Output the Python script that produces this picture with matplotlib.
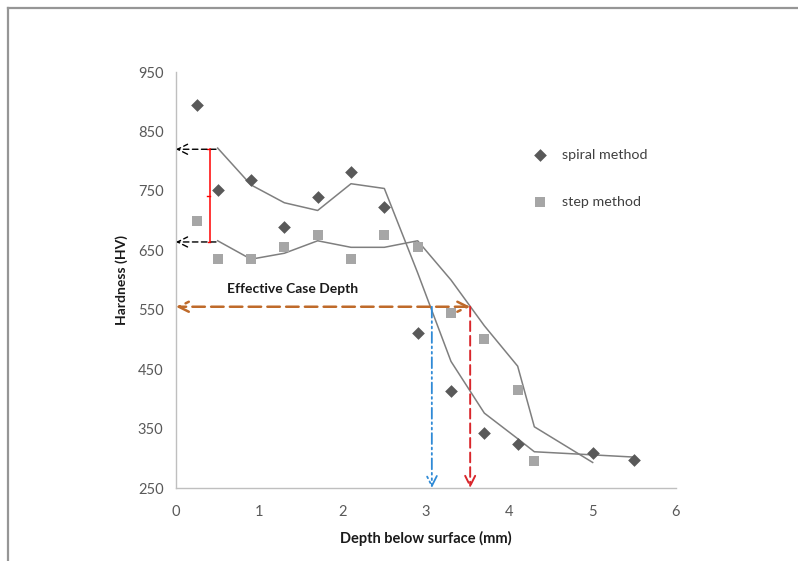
import matplotlib
matplotlib.use("Agg")
import matplotlib.pyplot as plt
from matplotlib.lines import Line2D

plt.rcParams['font.family'] = ['Lato', 'DejaVu Sans']

# --- data ---
spiral_depth = [0.25, 0.5, 0.9, 1.3, 1.7, 2.1, 2.5, 2.9, 3.3, 3.7, 4.1, 5.0, 5.5]
spiral_hv = [895, 752, 768, 690, 740, 782, 722, 510, 413, 343, 324, 309, 297]

step_depth = [0.25, 0.5, 0.9, 1.3, 1.7, 2.1, 2.5, 2.9, 3.3, 3.7, 4.1, 4.3]
step_hv = [700, 635, 635, 655, 675, 635, 675, 655, 545, 500, 415, 295]

spiral_trend_depth = [0.5, 0.9, 1.3, 1.7, 2.1, 2.5, 2.9, 3.3, 3.7, 4.1, 4.3, 5.5]
spiral_trend_hv = [822, 760, 730, 717, 762, 754, 612, 463, 376, 333, 311, 302]

step_trend_depth = [0.5, 0.9, 1.3, 1.7, 2.1, 2.5, 2.9, 3.3, 3.7, 4.1, 4.3, 5.0]
step_trend_hv = [666, 635, 645, 666, 655, 655, 666, 600, 523, 455, 353, 293]

x_ticks = [0, 1, 2, 3, 4, 5, 6]
y_ticks = [250, 350, 450, 550, 650, 750, 850, 950]

# annotation values
surface_high = 820
surface_low = 664
range_depth = 0.41
arrow_start_depth = 0.48
ecd_hv = 555
ecd_spiral = 3.07
ecd_step = 3.53

fig = plt.figure(figsize=(7.98, 5.61), dpi=100)
ax = fig.add_axes([176/798, 1-488/561, 500/798, 416/561])

ax.plot(spiral_trend_depth, spiral_trend_hv, color='#7f7f7f', lw=1.1, zorder=2)
ax.plot(step_trend_depth, step_trend_hv, color='#7f7f7f', lw=1.1, zorder=2)
ax.scatter(spiral_depth, spiral_hv, marker='D', s=42, color='#595959',
           label='spiral method', zorder=3, linewidths=0)
ax.scatter(step_depth, step_hv, marker='s', s=58, color='#a6a6a6',
           label='step method', zorder=3, linewidths=0)

# black dashed arrows to the axis
for v in (surface_high, surface_low):
    ax.annotate('', xy=(0, v), xytext=(arrow_start_depth, v),
                arrowprops=dict(arrowstyle='->', color='black', lw=1.0,
                                linestyle=(0, (4, 2.5)), shrinkA=0, shrinkB=0,
                                mutation_scale=18))

# red range bar
ax.plot([range_depth, range_depth], [surface_low, surface_high],
        color='#ff0000', lw=1.1, zorder=4)
ax.plot([range_depth - 0.04, range_depth], [surface_high, surface_high], color='#ff0000', lw=1.0)
ax.plot([range_depth - 0.03, range_depth], [surface_low, surface_low], color='#ff0000', lw=1.0)
ax.plot([range_depth - 0.04, range_depth], [(surface_low + surface_high) / 2] * 2,
        color='#ff0000', lw=1.0)

# effective case depth double arrow
ax.annotate('', xy=(0, ecd_hv), xytext=(ecd_step, ecd_hv),
            arrowprops=dict(arrowstyle='<->', color='#bf6a2a', lw=1.8,
                            linestyle=(0, (5, 2.5)), shrinkA=0, shrinkB=0,
                            mutation_scale=18))
ax.text(1.40, 585, 'Effective Case Depth', ha='center', va='center',
        fontsize=10, fontweight='bold', color='#1a1a1a')

# vertical arrows
ax.annotate('', xy=(ecd_spiral, 250), xytext=(ecd_spiral, ecd_hv),
            arrowprops=dict(arrowstyle='->', color='#2f8ad6', lw=1.3,
                            linestyle=(0, (6, 2, 1, 2, 1, 2)), shrinkA=0, shrinkB=0,
                            mutation_scale=18))
ax.annotate('', xy=(ecd_step, 250), xytext=(ecd_step, ecd_hv),
            arrowprops=dict(arrowstyle='->', color='#d9262b', lw=1.4,
                            linestyle=(0, (5, 2.5)), shrinkA=0, shrinkB=0,
                            mutation_scale=18))

ax.set_xlim(0, 6)
ax.set_ylim(250, 950)
ax.set_xticks(x_ticks)
ax.set_yticks(y_ticks)
ax.tick_params(length=0, labelsize=10.5, labelcolor='#595959', pad=9)
ax.tick_params(axis='x', pad=12.5)
for s in ('top', 'right'):
    ax.spines[s].set_visible(False)
for s in ('left', 'bottom'):
    ax.spines[s].set_color('#bfbfbf')
    ax.spines[s].set_linewidth(1.0)

ax.set_xlabel('Depth below surface (mm)', fontsize=10.5, fontweight='bold',
              color='#1a1a1a', labelpad=8)
ax.set_ylabel('Hardness (HV)', fontsize=10, fontweight='bold',
              color='#1a1a1a', labelpad=7)

ax.legend(loc='upper left', bbox_to_anchor=(533/798, 1-149/561),
          bbox_transform=fig.transFigure, frameon=False, fontsize=10.3,
          handlelength=1.0, handletextpad=1.0, labelspacing=2.45, borderpad=0,
          borderaxespad=0, labelcolor='#404040')

# figure frame lines (top and left)
fig.add_artist(Line2D([8/798, 1], [1-8/561, 1-8/561], transform=fig.transFigure,
                      color='#969696', lw=1.6))
fig.add_artist(Line2D([8/798, 8/798], [0, 1-8/561], transform=fig.transFigure,
                      color='#969696', lw=1.6))

fig.savefig('out.png', dpi=100)
